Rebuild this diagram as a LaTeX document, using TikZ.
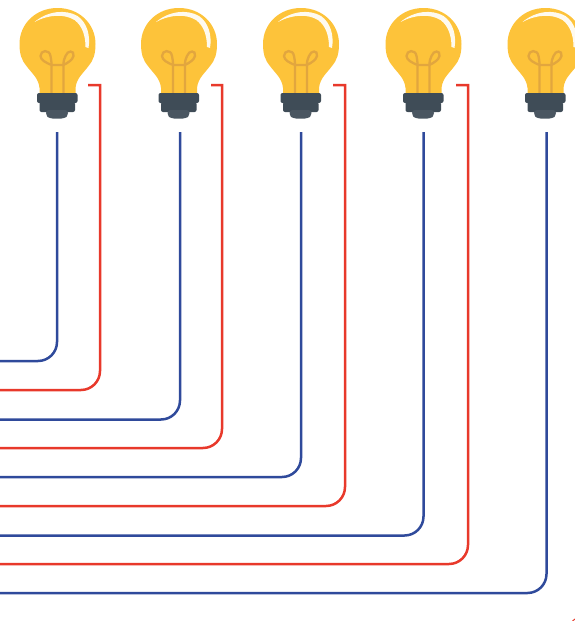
\documentclass[tikz,border=0pt]{standalone}
\definecolor{glass}{HTML}{FDC33A}
\definecolor{fil}{HTML}{E2A63E}
\definecolor{capd}{HTML}{3F4C57}
\definecolor{capl}{HTML}{4A5661}
\definecolor{wireb}{HTML}{2F4A9B}
\definecolor{wirer}{HTML}{E8392B}
\tikzset{
  x=1pt,y=-1pt,
  bluewire/.style={draw=wireb,line width=2.5pt,rounded corners=19pt},
  redwire/.style={draw=wirer,line width=2.5pt,rounded corners=19pt},
  fillet/.style={draw=fil,line width=2.3pt,fill=none},
  bulb/.pic={
    \fill[glass] (0,8) .. controls (-22,8) and (-38,24) .. (-38,44)
      .. controls (-38,54) and (-36,60) .. (-31,66)
      .. controls (-26,73) and (-19,78) .. (-18,88)
      -- (-18,94) -- (18,94) -- (18,88)
      .. controls (19,78) and (26,73) .. (31,66)
      .. controls (36,60) and (38,54) .. (38,44)
      .. controls (38,24) and (22,8) .. (0,8) -- cycle;
    \fill[white,opacity=.92] (-23,22) .. controls (-10,11) and (8,9) .. (20,16)
      .. controls (30,23) and (33,36) .. (31,48)
      -- (28,47) .. controls (28,36) and (25,26) .. (17,20)
      .. controls (7,14) and (-8,14) .. (-23,22) -- cycle;
    \draw[fillet] (-6,93) -- (-6,65) .. controls (-11,63) and (-17,60) .. (-17,56)
      .. controls (-17,50) and (-8,49) .. (-7,56) .. controls (-6.5,59) and (-6,61) .. (-6,65) -- (6,65)
      .. controls (6,61) and (6.5,59) .. (8,56) .. controls (10,50) and (17,50) .. (16,56)
      .. controls (15,60) and (10,63) .. (6,65) -- (6,93);
    \fill[capd,rounded corners=2pt] (-20.5,93) rectangle (20,103);
    \fill[capd,rounded corners=2pt] (-18,102) rectangle (17.5,112);
    \fill[capl,rounded corners=3pt] (-11.5,110) -- (-11.5,115.5) -- (-8,118.5) -- (7,118.5) -- (10.5,115.5) -- (10.5,110) -- cycle;
  }
}
\begin{document}
\begin{tikzpicture}
\useasboundingbox (0,0) rectangle (575,621);
\path (57.5,0) pic {bulb} (179,0) pic {bulb} (301,0) pic {bulb} (423.5,0) pic {bulb} (545.5,0) pic {bulb};
\coordinate (b1s) at (57,132);   \coordinate (b1c) at (57,361);   \coordinate (b1e) at (0,361);
\coordinate (r1s) at (88,85);    \coordinate (r1t) at (100,85);   \coordinate (r1c) at (100,390);  \coordinate (r1e) at (0,390);
\coordinate (b2s) at (180,132);  \coordinate (b2c) at (180,419.5);\coordinate (b2e) at (0,419.5);
\coordinate (r2s) at (211,85);   \coordinate (r2t) at (222,85);   \coordinate (r2c) at (222,448);  \coordinate (r2e) at (0,448);
\coordinate (b3s) at (301,132);  \coordinate (b3c) at (301,477);  \coordinate (b3e) at (0,477);
\coordinate (r3s) at (333,85);   \coordinate (r3t) at (345,85);   \coordinate (r3c) at (345,506);  \coordinate (r3e) at (0,506);
\coordinate (b4s) at (423.5,132);\coordinate (b4c) at (423.5,535.5);\coordinate (b4e) at (0,535.5);
\coordinate (r4s) at (456,85);   \coordinate (r4t) at (468,85);   \coordinate (r4c) at (468,564);  \coordinate (r4e) at (0,564);
\coordinate (b5s) at (546.5,132);\coordinate (b5c) at (546.5,593);\coordinate (b5e) at (0,593);
\foreach \i in {1,...,5}{\draw[bluewire] (b\i s) -- (b\i c) -- (b\i e);}
\foreach \i in {1,...,4}{
  \draw[redwire] (r\i s) [sharp corners] -- (r\i t) [rounded corners=19pt] -- (r\i c) -- (r\i e);
}
\coordinate (sp1) at (572.5,621); \coordinate (sp2) at (575,619);
\draw[draw=wirer,line width=1pt] (sp1) -- (sp2);
\end{tikzpicture}
\end{document}
